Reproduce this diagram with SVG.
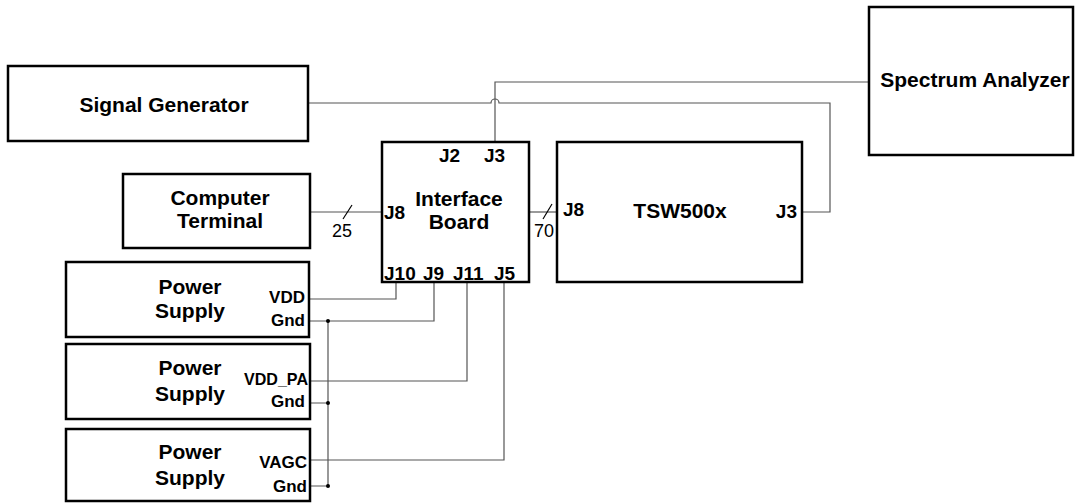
<svg xmlns="http://www.w3.org/2000/svg" width="1075" height="503" viewBox="0 0 1075 503">
<style>
.box{fill:#fff;stroke:#000;stroke-width:2.5}
.t{font-family:"Liberation Sans",Arial,sans-serif;font-weight:bold;fill:#000}
.big{font-size:21px;text-anchor:middle}
.j{font-size:19px}
.s{font-size:17px;text-anchor:end}
.n{font-family:"Liberation Sans",Arial,sans-serif;font-size:18px;text-anchor:middle;fill:#000}
.w{fill:none;stroke:#555;stroke-width:1.2}
.sl{stroke:#000;stroke-width:1.2}
</style>
<rect width="1075" height="503" fill="#fff"/>
<g id="connectors">
<path class="w" d="M309,212H382"/>
<line class="sl" x1="343" y1="219" x2="352" y2="205"/>
<path class="w" d="M529,212H557"/>
<line class="sl" x1="543" y1="219" x2="552" y2="204"/>
<path class="w" d="M495,142V82H869"/>
<path class="w" d="M308,103H491A4,4 0 0 1 499,103H830V212H802"/>
<path class="w" d="M310,299H396V282"/>
<path class="w" d="M310,321H434V282"/>
<path class="w" d="M310,381H467V282"/>
<path class="w" d="M310,460H504V282"/>
<path class="w" d="M328,321V486M310,403H328M310,486H328"/>
<circle cx="328" cy="321" r="2" fill="#000"/>
<circle cx="328" cy="403" r="2" fill="#000"/>
<circle cx="328" cy="486" r="2" fill="#000"/>
<text class="n" x="342" y="237">25</text>
<text class="n" x="544" y="237">70</text>
</g>
<g id="signal-generator">
<rect class="box" x="8" y="66" width="300" height="75"/>
<text class="t big" x="164" y="112">Signal Generator</text>
</g>
<g id="spectrum-analyzer">
<rect class="box" x="869" y="7" width="204" height="148"/>
<text class="t big" x="975" y="87">Spectrum Analyzer</text>
</g>
<g id="computer-terminal">
<rect class="box" x="123" y="174" width="187" height="74"/>
<text class="t big" x="220" y="205">Computer</text>
<text class="t big" x="220" y="228">Terminal</text>
</g>
<g id="interface-board">
<rect class="box" x="382" y="142" width="147" height="140"/>
<text class="t big" x="459" y="206">Interface</text>
<text class="t big" x="459" y="229">Board</text>
<text class="t j" x="439" y="162">J2</text>
<text class="t j" x="484" y="162">J3</text>
<text class="t j" x="384" y="219">J8</text>
<text class="t j" x="384" y="280">J10</text>
<text class="t j" x="423" y="280">J9</text>
<text class="t j" x="453" y="280">J11</text>
<text class="t j" x="494" y="280">J5</text>
</g>
<g id="tsw500x">
<rect class="box" x="557" y="142" width="245" height="140"/>
<text class="t big" x="680" y="218">TSW500x</text>
<text class="t j" x="563" y="216">J8</text>
<text class="t j" x="797" y="218" text-anchor="end">J3</text>
</g>
<g id="power-supply-1">
<rect class="box" x="66" y="262" width="243" height="75"/>
<text class="t big" x="190" y="294">Power</text>
<text class="t big" x="190" y="318">Supply</text>
<text class="t s" x="305" y="303">VDD</text>
<text class="t s" x="305" y="326">Gnd</text>
</g>
<g id="power-supply-2">
<rect class="box" x="66" y="344" width="244" height="75"/>
<text class="t big" x="190" y="375">Power</text>
<text class="t big" x="190" y="401">Supply</text>
<text class="t s" x="308" y="385" textLength="64" lengthAdjust="spacingAndGlyphs">VDD_PA</text>
<text class="t s" x="305" y="407">Gnd</text>
</g>
<g id="power-supply-3">
<rect class="box" x="66" y="429" width="244" height="72"/>
<text class="t big" x="190" y="459">Power</text>
<text class="t big" x="190" y="485">Supply</text>
<text class="t s" x="307" y="468">VAGC</text>
<text class="t s" x="307" y="492">Gnd</text>
</g>
</svg>
